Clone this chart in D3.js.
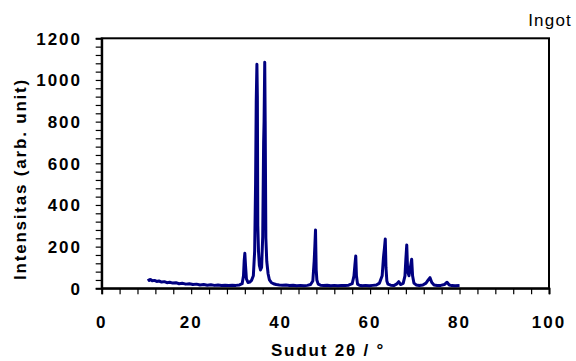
<!DOCTYPE html>
<html>
<head>
<meta charset="utf-8">
<script src="https://cdnjs.cloudflare.com/ajax/libs/d3/7.8.5/d3.min.js"></script>
<style>
  body { margin: 0; background: #fff; }
  text { font-family: "Liberation Sans", Arial, sans-serif; }
</style>
</head>
<body>
<script>
// XRD pattern: 2theta and intensity, same order
var angles = [10.4,10.6,10.9,11.3,11.8,12.3,12.8,13.4,14.0,14.6,
  15.2,15.9,16.6,17.3,18.0,18.8,19.6,20.4,21.2,22.0,
  22.8,23.6,24.4,25.2,26.0,26.8,27.6,28.4,29.2,30.0,
  30.8,31.4,31.7,31.85,32.0,32.15,32.35,32.7,33.1,33.5,
  33.9,34.2,34.4,34.55,34.7,34.8,34.9,35.05,35.25,35.5,
  35.75,36.0,36.2,36.3,36.45,36.55,36.7,36.9,37.2,37.5,
  37.9,38.4,39.0,39.7,40.4,41.2,42.0,42.8,43.6,44.4,
  45.2,46.0,46.7,47.2,47.5,47.65,47.8,47.95,48.1,48.4,
  48.9,49.6,50.4,51.2,52.0,52.8,53.6,54.4,55.2,56.0,
  56.4,56.6,56.8,56.95,57.2,57.6,58.2,59.0,59.8,60.6,
  61.4,62.1,62.7,63.0,63.2,63.4,63.55,63.75,64.0,64.6,
  65.3,65.9,66.4,66.8,67.4,67.8,68.0,68.2,68.4,68.7,
  69.0,69.3,69.5,69.8,70.3,71.0,71.8,72.5,73.0,73.4,
  73.8,74.3,75.0,75.8,76.6,77.2,77.7,78.3,79.0,80.0];
var counts = [46,38,42,36,38,33,35,30,32,27,
  29,25,27,22,24,20,22,18,20,16,
  18,15,17,14,16,13,15,13,15,14,
  16,22,60,130,168,110,45,28,30,38,
  60,180,500,900,1075,920,300,180,110,88,
  100,250,700,800,1085,800,240,130,70,40,
  28,22,18,16,15,16,13,15,12,14,
  12,14,18,35,130,200,280,90,40,20,
  15,13,15,12,14,12,14,13,15,22,
  60,110,155,60,20,15,12,14,12,14,
  16,25,60,150,190,237,100,35,20,15,
  13,20,32,18,24,60,140,208,80,60,
  100,139,60,25,16,13,16,25,40,51,
  28,16,13,14,18,29,16,13,12,13];

var xTicks = d3.range(0, 101, 4);
var yTicks = d3.range(0, 1201, 40);
var xLabels = [0, 20, 40, 60, 80, 100];
var yLabels = [0, 200, 400, 600, 800, 1000, 1200];

var W = 576, H = 361;
var box = { left: 101.7, top: 38.3, right: 549, bottom: 288.3 };

var svg = d3.select("body").append("svg")
  .attr("width", W)
  .attr("height", H);

var x = d3.scaleLinear().domain([0, 100]).range([box.left, box.right]);
var y = d3.scaleLinear().domain([0, 1200]).range([box.bottom, box.top]);

// frame
svg.append("rect")
  .attr("x", box.left)
  .attr("y", box.top)
  .attr("width", box.right - box.left)
  .attr("height", box.bottom - box.top)
  .attr("fill", "none")
  .attr("stroke", "#000")
  .attr("stroke-width", 2);

// ticks
var xAxis = svg.append("g")
  .attr("transform", "translate(0," + box.bottom + ")")
  .call(d3.axisBottom(x).tickValues(xTicks).tickSize(6).tickFormat(""));
var yAxis = svg.append("g")
  .attr("transform", "translate(" + box.left + ",0)")
  .call(d3.axisLeft(y).tickValues(yTicks).tickSize(6).tickFormat(""));
[xAxis, yAxis].forEach(function (a) {
  a.select(".domain").attr("stroke", "#000").attr("stroke-width", 2);
  a.selectAll(".tick line").attr("stroke", "#000").attr("stroke-width", 1.2);
});

// tick labels
svg.append("g").selectAll("text")
  .data(xLabels)
  .enter()
  .append("text")
    .attr("x", d => x(d))
    .attr("y", 328)
    .attr("text-anchor", "middle")
    .attr("font-size", 17)
    .attr("font-weight", "bold")
    .attr("letter-spacing", 2)
    .text(d => d);

svg.append("g").selectAll("text")
  .data(yLabels)
  .enter()
  .append("text")
    .attr("x", 82)
    .attr("y", d => y(d) + 6.3)
    .attr("text-anchor", "end")
    .attr("font-size", 17)
    .attr("font-weight", "bold")
    .attr("letter-spacing", 2)
    .text(d => d);

// axis titles
svg.append("text")
  .attr("transform", "translate(26,179) rotate(-90)")
  .attr("text-anchor", "middle")
  .attr("font-size", 17)
  .attr("font-weight", "bold")
  .attr("letter-spacing", 1.8)
  .text("Intensitas (arb. unit)");

svg.append("text")
  .attr("x", 328)
  .attr("y", 356)
  .attr("text-anchor", "middle")
  .attr("font-size", 17)
  .attr("font-weight", "bold")
  .attr("letter-spacing", 1.8)
  .text("Sudut 2θ / °");

svg.append("text")
  .attr("x", 572)
  .attr("y", 26)
  .attr("text-anchor", "end")
  .attr("font-size", 17)
  .attr("letter-spacing", 1.2)
  .text("Ingot");

// pattern
var points = angles.map((a, i) => [a, counts[i]]);
var line = d3.line()
  .x(d => x(d[0]))
  .y(d => y(d[1]));

svg.append("path")
  .datum(points)
  .attr("d", line)
  .attr("fill", "none")
  .attr("stroke", "#000080")
  .attr("stroke-width", 3)
  .attr("stroke-linejoin", "round");
</script>
</body>
</html>
